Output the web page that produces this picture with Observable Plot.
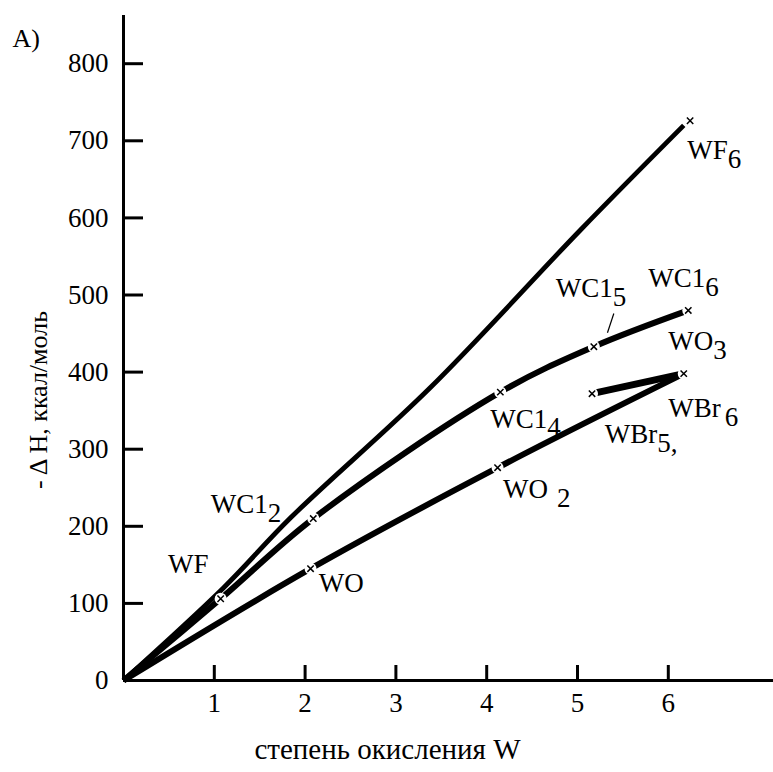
<!DOCTYPE html>
<html>
<head>
<meta charset="utf-8">
<script src="https://cdn.jsdelivr.net/npm/d3@7"></script>
<script src="https://cdn.jsdelivr.net/npm/@observablehq/plot@0.6"></script>
<style>
  body { margin: 0; background: #fff; }
  #chart { width: 773px; height: 772px; }
  #chart svg, #chart svg text { font-family: "Liberation Serif", serif !important; }
</style>
</head>
<body>
<div id="chart"></div>
<script>
// ---- data ----
const xTicks = [1, 2, 3, 4, 5, 6];
const yTicks = [0, 100, 200, 300, 400, 500, 600, 700, 800];

// curves (oxidation state W vs -ΔH, kcal/mol)
const wfX = [0, 1.1, 1.84, 3.38, 5.03, 6.17];
const wfY = [0, 120, 211, 380, 584, 720];
const wclX = [0, 1.07, 2.09, 4.15, 5.18, 6.22];
const wclY = [0, 106, 210, 374, 433, 480];
const woX = [0, 2.06, 4.12, 6.17];
const woY = [0, 145, 276, 398];
const wbrX = [5.16, 6.17];
const wbrY = [372, 398];

// marked compounds
const markX = [1.07, 2.09, 2.06, 4.15, 4.12, 5.18, 5.16, 6.22, 6.24, 6.17];
const markY = [106, 210, 145, 374, 276, 433, 372, 480, 726, 398];

// annotations (text with "_" marks subscript)
const labelText = ["WF", "WC1_2", "WO", "WO_2", "WC1_4", "WC1_5", "WC1_6", "WO_3", "WBr_6", "WBr_5,", "WF_6"];
const labelX = [0.49, 0.96, 2.15, 4.18, 4.04, 4.76, 5.78, 6.0, 6.0, 5.3, 6.21];
const labelY = [151, 228, 126, 248, 339, 508, 521, 440, 353, 319, 687];

// leader line for WCl5
const leadX1 = [5.40], leadY1 = [476], leadX2 = [5.33], leadY2 = [451];

const series = [
  {x: wfX, y: wfY, w: 4.8},
  {x: wclX, y: wclY, w: 6},
  {x: woX, y: woY, w: 6},
  {x: wbrX, y: wbrY, w: 7}
];

const W = 773, H = 772;
const mL = 123, mR = 0, mT = 15, mB = 92;
const FONT = "Liberation Serif";

const marks = [];
for (const s of series) {
  const pts = s.x.map((x, i) => ({x, y: s.y[i]}));
  marks.push(Plot.line(pts, {x: "x", y: "y", stroke: "black", strokeWidth: s.w, strokeLinecap: "butt", curve: "catmull-rom"}));
}
const markPts = markX.map((x, i) => ({x, y: markY[i]}));
marks.push(Plot.dot(markPts, {x: "x", y: "y", r: 6, fill: "white", stroke: null}));
marks.push(Plot.dot(markPts, {x: "x", y: "y", r: 3, symbol: "times", stroke: "black", strokeWidth: 1.5}));
marks.push(Plot.link([0], {x1: () => leadX1[0], y1: () => leadY1[0], x2: () => leadX2[0], y2: () => leadY2[0], stroke: "black", strokeWidth: 1.2}));

// axes lines and ticks
marks.push(Plot.ruleX([0], {stroke: "black", strokeWidth: 3}));
marks.push(Plot.ruleY([0], {stroke: "black", strokeWidth: 3}));
marks.push(Plot.tickY(yTicks, {y: d => d, stroke: "black", strokeWidth: 3, insetRight: (W - mL - mR) - 20}));
marks.push(Plot.tickX(xTicks, {x: d => d, stroke: "black", strokeWidth: 3, insetTop: (H - mT - mB) - 15}));

const labels = labelText.map((t, i) => ({t, x: labelX[i], y: labelY[i]}));
marks.push(Plot.text(labels, {x: "x", y: "y", text: "t", textAnchor: "start", fontSize: 27, fill: "black"}));

// titles
marks.push(Plot.text(["A)"], {frameAnchor: "top-left", dx: -111, dy: 13, textAnchor: "start", fontSize: 26}));
marks.push(Plot.text(["степень окисления W"], {frameAnchor: "bottom-left", dx: 264, dy: 78, textAnchor: "middle", fontSize: 29}));
marks.push(Plot.text(["- Δ H, ккал/моль"], {frameAnchor: "left", dx: -85, dy: 52, rotate: -90, textAnchor: "middle", fontSize: 26}));

const chart = Plot.plot({
  width: W,
  height: H,
  marginLeft: mL,
  marginRight: mR,
  marginTop: mT,
  marginBottom: mB,
  style: {fontFamily: FONT, fontSize: "27px", color: "black", background: "white"},
  x: {domain: [0, (W - mL - mR) / 90.8], ticks: xTicks, tickSize: 0, tickPadding: 12, label: null},
  y: {domain: [0, (H - mT - mB) / 0.771], ticks: yTicks, tickSize: 0, tickPadding: 15, label: null},
  marks
});

// subscripts
d3.select(chart).selectAll("text").each(function () {
  const el = d3.select(this);
  if (this.querySelector("tspan")) return;
  const t = this.textContent;
  if (!t.includes("_")) return;
  const [main, sub] = t.split("_");
  el.text(main);
  const ts = el.append("tspan").attr("dy", "0.32em").text(sub);
  if (t === "WO_2") ts.attr("dx", 9);
  if (t === "WBr_6") ts.attr("dx", 4);
});

document.getElementById("chart").appendChild(chart);
</script>
</body>
</html>
